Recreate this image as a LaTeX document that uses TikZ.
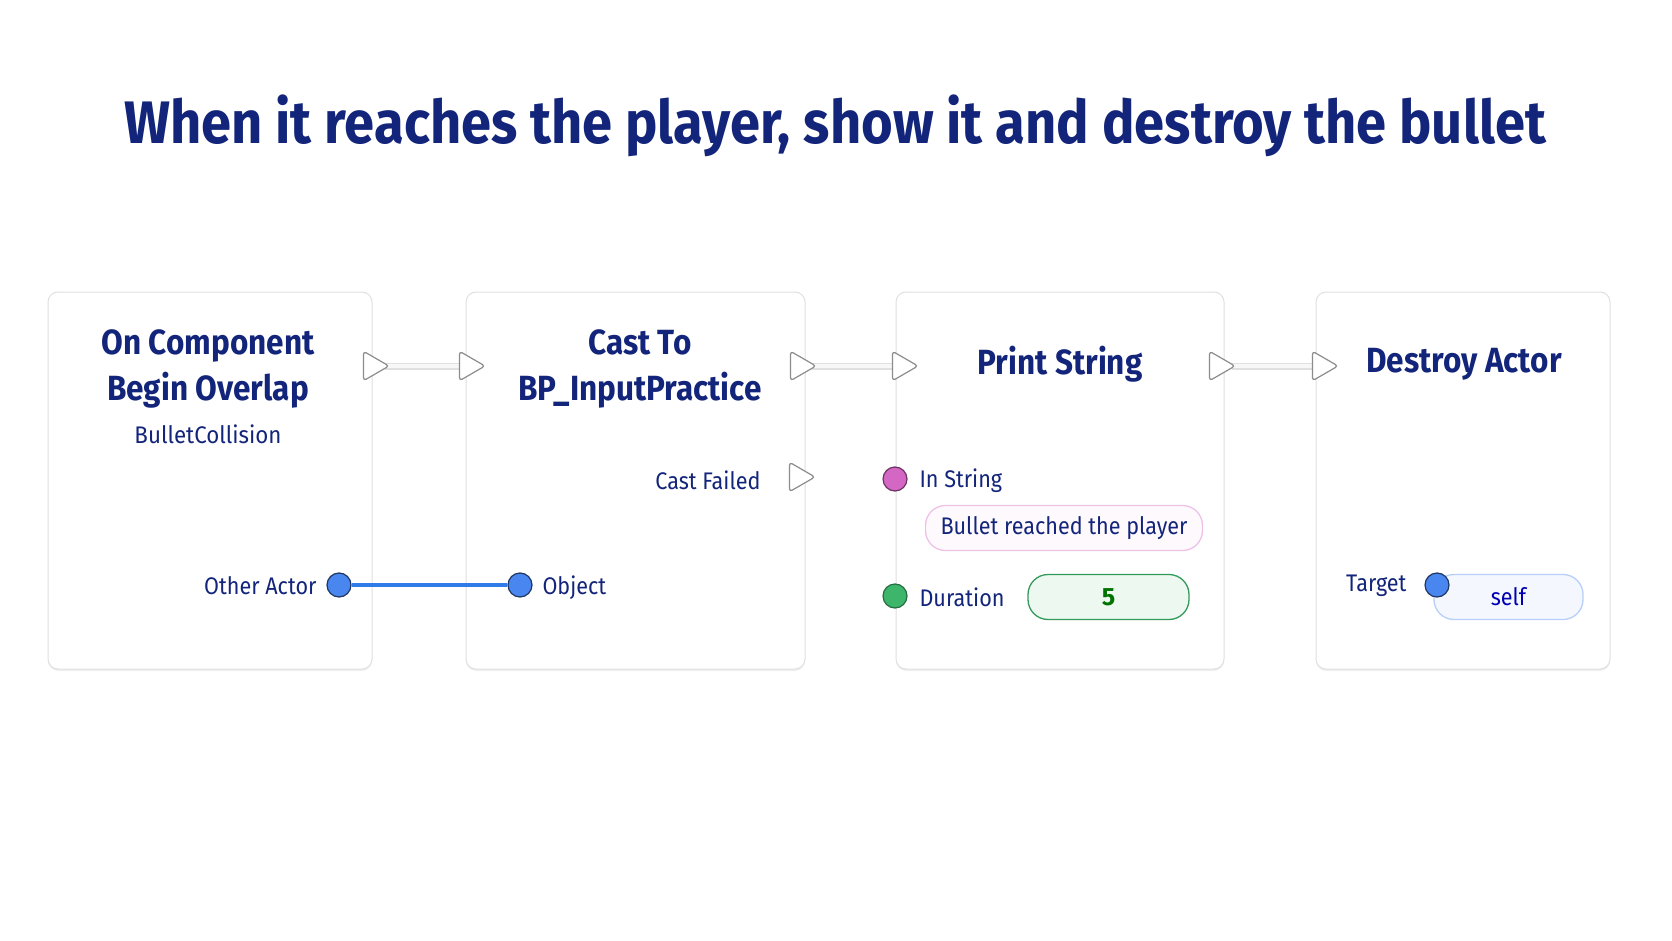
\documentclass[tikz,border=0pt]{standalone}
\usepackage{fontspec}
\setmainfont{Fira Sans}
\usetikzlibrary{shadows,shapes.geometric}
\definecolor{navy}{HTML}{13257A}
\definecolor{pinblue}{HTML}{4A86F0}
\definecolor{wireblue}{HTML}{2F7BE8}
\definecolor{pink}{HTML}{D466C4}
\definecolor{pgreen}{HTML}{3DB56A}
\newcommand{\cond}[2][0.9]{\scalebox{#1}[1]{#2}}
\tikzset{
 x=1pt,y=-1pt,
 box/.style={draw=black!12,line width=1pt,fill=white,rounded corners=10pt,drop shadow={opacity=0.12,shadow xshift=0pt,shadow yshift=-2pt}},
 ttl/.style={text=navy,font=\fontsize{35}{46}\selectfont\bfseries,align=center},
 lbl/.style={text=navy,font=\fontsize{24}{28}\selectfont},
 exec/.style={draw=black!45,line width=1.2pt,fill=white,rounded corners=3pt,regular polygon,regular polygon sides=3,shape border rotate=-90,minimum size=34pt,inner sep=0pt},
 pin/.style={circle,minimum size=24pt,inner sep=0pt,line width=1.2pt},
 wire/.style={draw=black!12,line width=7pt},
 wirein/.style={draw=black!3,line width=4.5pt},
}
\begin{document}
\begin{tikzpicture}
\useasboundingbox (0,0) rectangle (1672,941);
\fill[white] (0,0) rectangle (1672,941);
\node[text=navy,font=\fontsize{60}{70}\selectfont\bfseries] (title) at (835,126) {\cond[0.905]{When it reaches the player, show it and destroy the bullet}};
% boxes
\node[box,minimum width=324pt,minimum height=377pt] (b1) at (210,480.5) {};
\node[box,minimum width=339pt,minimum height=377pt] (b2) at (635.5,480.5) {};
\node[box,minimum width=328pt,minimum height=377pt] (b3) at (1060,480.5) {};
\node[box,minimum width=294pt,minimum height=377pt] (b4) at (1463,480.5) {};
% wires
\draw[wire] (385,366) -- (460,366); \draw[wirein] (385,366) -- (460,366);
\draw[wire] (812,366) -- (894,366); \draw[wirein] (812,366) -- (894,366);
\draw[wire] (1232,366) -- (1314,366); \draw[wirein] (1232,366) -- (1314,366);
% exec pins
\node[exec] (o1) at (372,366) {};
\node[exec] (i2) at (468,366) {};
\node[exec] (o2) at (799,366) {};
\node[exec] (i3) at (901,366) {};
\node[exec] (o3) at (1218,366) {};
\node[exec] (i4) at (1321,366) {};
\node[exec] (cf) at (798,477) {};
% titles
\node[ttl] (t1) at (208,369) {\cond{On Component}\\\cond{Begin Overlap}};
\node[lbl] (t1s) at (208,434) {\cond[0.93]{BulletCollision}};
\node[ttl] (t2) at (640,369) {\cond{Cast To}\\\cond{BP\_InputPractice}};
\node[ttl] (t3) at (1060,364) {\cond{Print String}};
\node[ttl] (t4) at (1464,364) {\cond{Destroy Actor}};
% data pins
\node[pin,draw=black!60!pinblue,fill=pinblue] (pa) at (339,585) {};
\node[pin,draw=black!60!pinblue,fill=pinblue] (pb) at (520,585) {};
\draw[wireblue,line width=3.5pt] (pa) -- (pb);
\node[lbl,anchor=east] (la) at (320,586) {\cond{Other Actor}};
\node[lbl,anchor=west] (lb) at (539,588) {\cond{Object}};
\node[lbl,anchor=east] (lcf) at (764,480) {\cond{Cast Failed}};
\node[pin,draw=black!50!pink,fill=pink] (ps) at (895,479) {};
\node[lbl,anchor=west] (ls) at (916,481) {\cond{In String}};
\node[draw=pink!40,line width=1.3pt,fill=pink!4,rounded corners=20pt,minimum width=277pt,minimum height=45pt,lbl] (vs) at (1064,528) {\cond{Bullet reached the player}};
\node[pin,draw=black!40!pgreen,fill=pgreen] (pd) at (895,596) {};
\node[lbl,anchor=west] (ld) at (916,597) {\cond{Duration}};
\node[draw=pgreen!85!black,line width=1.3pt,fill=pgreen!10,rounded corners=20pt,minimum width=161pt,minimum height=45pt,text=green!45!black,font=\fontsize{25}{28}\selectfont\bfseries] (vd) at (1108.5,597) {5};
\node[draw=pinblue!40,line width=1.3pt,fill=pinblue!6,rounded corners=20pt,minimum width=149pt,minimum height=45pt,lbl,text=blue!70!black] (vt) at (1508.5,597) {\cond{self}};
\node[pin,draw=black!60!pinblue,fill=pinblue] (pt) at (1437,585) {};
\node[lbl,anchor=east] (lt) at (1410,586) {\cond{Target}};
\end{tikzpicture}
\end{document}
